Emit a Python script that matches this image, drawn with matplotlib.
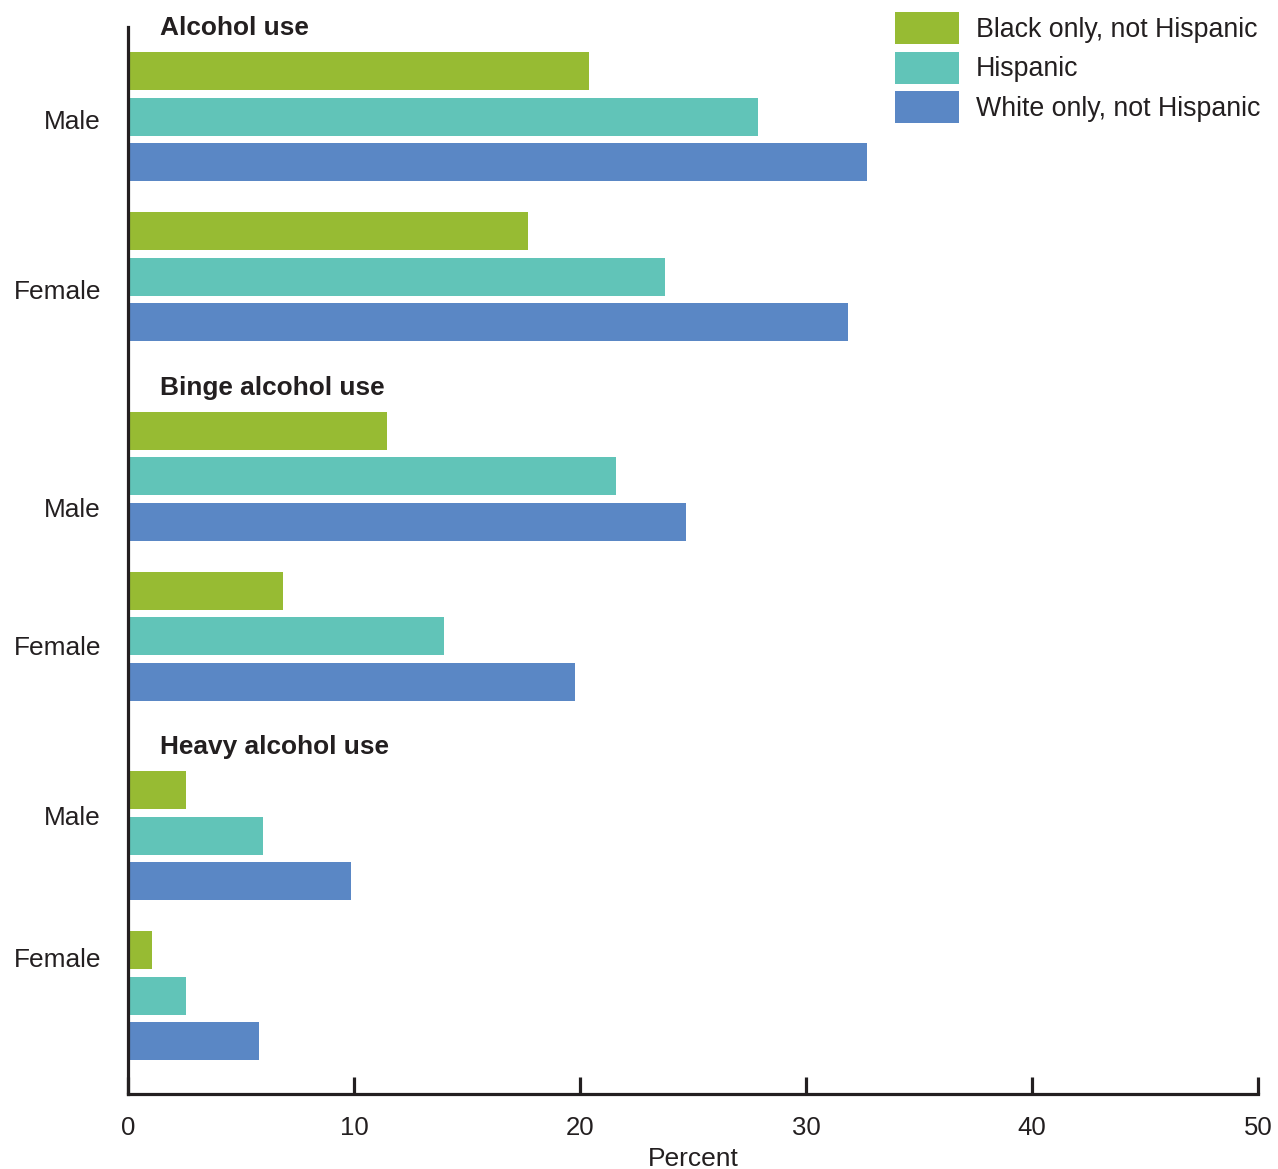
import matplotlib
matplotlib.use("Agg")
import matplotlib.pyplot as plt

plt.rcParams['font.family'] = ['Liberation Sans', 'DejaVu Sans']

sections = ["Alcohol use", "Binge alcohol use", "Heavy alcohol use"]
sexes = ["Male", "Female"]
races = ["Black only, not Hispanic", "Hispanic", "White only, not Hispanic"]
colors = ["#97BB33", "#61C4B8", "#5A87C5"]

# values[section][sex][race]
black = [[20.3, 17.6], [11.4, 6.8], [2.5, 1.0]]
hispanic = [[27.8, 23.7], [21.5, 13.9], [5.9, 2.5]]
white = [[32.6, 31.8], [24.6, 19.7], [9.8, 5.7]]
series = [black, hispanic, white]

xticks = [0, 10, 20, 30, 40, 50]

# layout (y in pixel-like units, inverted axis)
first = 71.0
sec_pitch = 359.5
sex_pitch = 160.0
bar_pitch = 45.5
bar_h = 38.0
label_base = [[129, 299], [517, 655], [825, 967]]

fig = plt.figure(figsize=(12.78, 11.69), dpi=100)
ax = fig.add_axes([128 / 1278, 1 - 1094 / 1169, (1258 - 128) / 1278, (1094 - 27) / 1169])
ax.set_xlim(0, 50)
ax.set_ylim(1094, 27)

for r, (vals, col) in enumerate(zip(series, colors)):
    ys, ws = [], []
    for s in range(len(sections)):
        for g in range(len(sexes)):
            ys.append(first + s * sec_pitch + g * sex_pitch + r * bar_pitch)
            ws.append(vals[s][g])
    ax.barh(ys, ws, height=bar_h, color=col, left=0.08, label=races[r], linewidth=0)

for s, title in enumerate(sections):
    ax.text(32 / 1130, first + s * sec_pitch - 36, title, transform=ax.get_yaxis_transform(),
            fontsize=18.9, fontweight='bold', color='#231f20', va='baseline', ha='left')
    for g, sx in enumerate(sexes):
        ax.text(-27 / 1130, label_base[s][g], sx, transform=ax.get_yaxis_transform(),
                fontsize=18.9, color='#231f20', va='baseline', ha='right')

for side in ['top', 'right']:
    ax.spines[side].set_visible(False)
for side in ['left', 'bottom']:
    ax.spines[side].set_linewidth(2.3)
    ax.spines[side].set_color('#231f20')
ax.set_yticks([])
ax.set_xticks(xticks)
ax.set_xticklabels([str(t) for t in xticks])
ax.tick_params(axis='x', direction='in', length=12, width=2.3, color='#231f20',
               labelsize=18.5, labelcolor='#231f20', pad=16)
ax.set_xlabel("Percent", fontsize=19, color='#231f20', labelpad=5)

leg = ax.legend(loc='upper left', bbox_to_anchor=(895 / 1278, 1 - 12 / 1169),
                bbox_transform=fig.transFigure, frameon=False, borderpad=0,
                borderaxespad=0, handlelength=2.39, handleheight=1.46,
                handletextpad=0.63, labelspacing=0.28, fontsize=19.3)
for t in leg.get_texts():
    t.set_color('#231f20')

fig.savefig("out.png", dpi=100)
